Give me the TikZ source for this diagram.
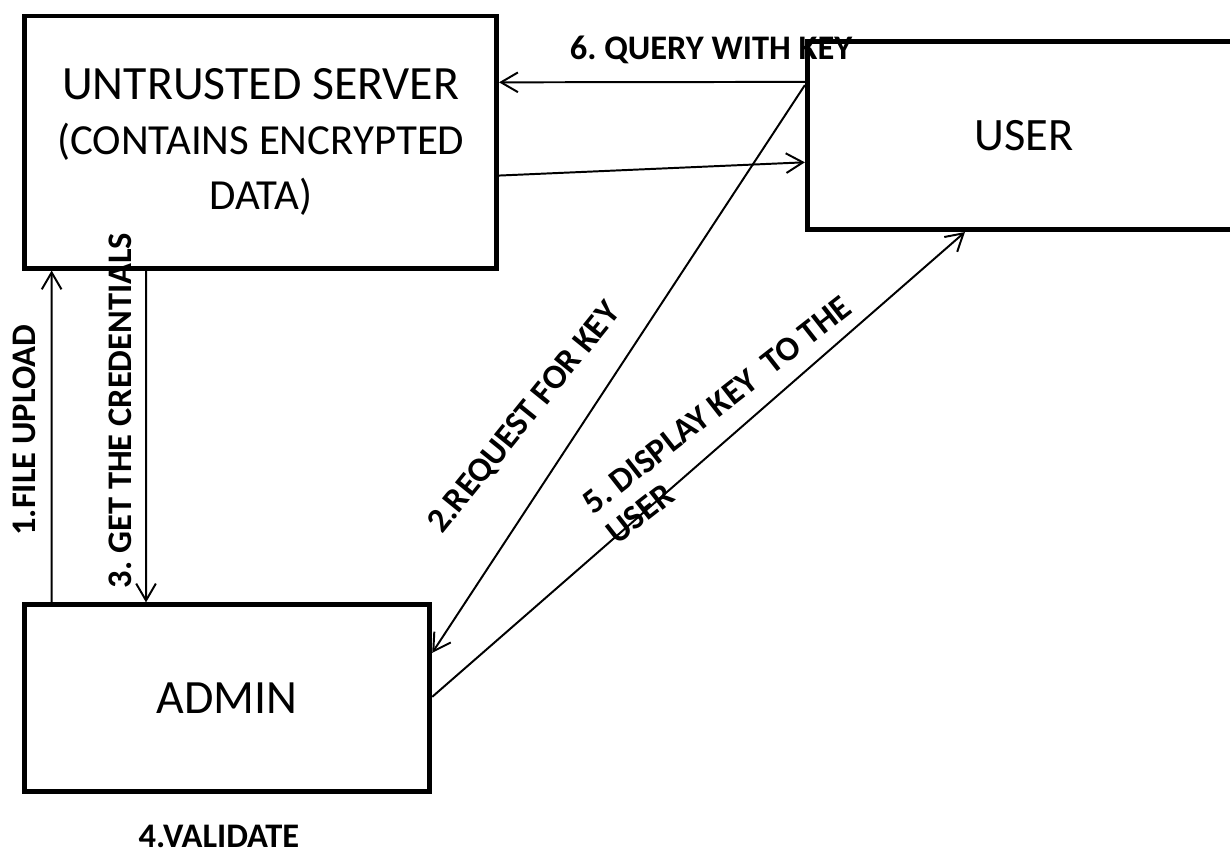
\documentclass[tikz,border=0pt]{standalone}
\usepackage{fontspec}
\setmainfont{Carlito}
\usetikzlibrary{arrows.meta}
\frenchspacing
\begin{document}
\begin{tikzpicture}[x=0.025cm,y=-0.025cm,
  box/.style={draw,line width=3.5pt,inner sep=0pt,align=center,font=\fontsize{34}{39}\selectfont},
  flow/.style={-{Straight Barb[length=12pt,width=14pt]},line width=1.4pt},
  lbl/.style={inner sep=0pt,font=\fontsize{24.5}{27.4}\selectfont\bfseries}]
\useasboundingbox (0,0) rectangle (1230,851);
\clip (0,0) rectangle (1230,851);
% the three parties
\node[box,minimum width=11.79cm,minimum height=6.3cm] (server) at (260.75,142) {UNTRUSTED SERVER\\{\fontsize{30.5}{39}\selectfont(CONTAINS ENCRYPTED}\\{\fontsize{30.5}{39}\selectfont DATA)}};
\node[box,font=\fontsize{33}{39}\selectfont,minimum width=10.83cm,minimum height=4.69cm] (user) at (1024,135.75) {USER};
\node[box,minimum width=10.12cm,minimum height=4.67cm] (admin) at (227.3,698.3) {ADMIN};
% messages
\draw[flow] ([xshift=0.73cm]admin.north west) -- ([xshift=0.73cm]server.south west);
\draw[flow] ([xshift=3.09cm]server.south west) -- ([xshift=3.09cm]admin.north west);
\draw[flow] ([yshift=-1.06cm]user.north west) -- ([yshift=-1.72cm]server.north east);
\draw[flow] ([yshift=-4.05cm]server.north east) -- ([yshift=-3.07cm]user.north west);
\draw[flow] ([yshift=-1.14cm]user.north west) -- ([yshift=-1.26cm]admin.north east);
\draw[flow] ([yshift=-2.36cm]admin.north east) -- ([xshift=4.0cm]user.south west);
% labels
\node[lbl,anchor=base,rotate=90] (upload) at (35,430) {1.FILE UPLOAD};
\node[lbl,anchor=base,rotate=90] (cred) at (131.7,410.5) {3. GET THE CREDENTIALS};
\node[lbl,anchor=base west,rotate=51] (request) at (442,535) {2.REQUEST FOR KEY};
\node[lbl,anchor=base west,rotate=38,align=left] (display) at (617,546) {5. DISPLAY KEY~ TO THE\\USER};
\node[lbl,anchor=base] (query) at (711,59) {6. QUERY WITH KEY};
\node[lbl,anchor=base] (validate) at (219,847) {4.VALIDATE};
\end{tikzpicture}
\end{document}
